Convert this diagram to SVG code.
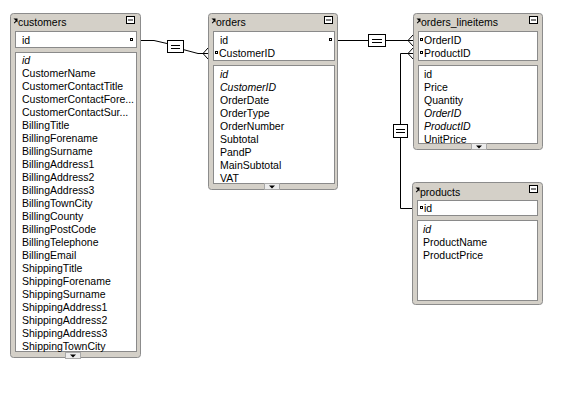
<svg xmlns="http://www.w3.org/2000/svg" width="572" height="413" viewBox="0 0 572 413">
<defs>
<style>
.frame{fill:#d4d0c8;stroke:#8c8c8c;stroke-width:1}
.box{fill:#ffffff;stroke:#8a8a8a;stroke-width:1}
.t{font-family:"Liberation Sans",Arial,sans-serif;font-size:10.5px;fill:#000}
.i{font-style:italic}
.ic{fill:#fff;stroke:#000;stroke-width:1}
.dot{fill:#fff;stroke:#000;stroke-width:1}
.ln{fill:none;stroke:#000;stroke-width:1}
.eq{fill:#fff;stroke:#000;stroke-width:1}
.tab{fill:#ececec;stroke:#a8a8a8;stroke-width:1}
</style>
<g id="closeicon"><rect class="ic" x="0.5" y="0.5" width="8" height="7"/><line x1="2" y1="4" x2="7" y2="4" stroke="#000"/></g>
<g id="titleicon"><path d="M0.5,1.5 H4.5 V5.5 L3.5,4.5 L1.5,6.5 L0.8,5.8 L2.8,3.8 Z" fill="#000"/></g>
<g id="scrolltab"><rect class="tab" x="-7.5" y="-2.5" width="15" height="6"/><path d="M-3,-0.5 H3 L0,2.5 Z" fill="#000"/></g>
</defs>
<rect width="572" height="413" fill="#fff"/>

<g id="connectors">
<path class="ln" d="M141,40.5 H154 L167,43.5"/>
<path class="ln" d="M183,49.5 L198,53.5 H208"/>
<path class="ln" d="M208,48 L203,53.5 L208,59"/>
<rect class="eq" x="167.5" y="40.5" width="16" height="12"/>
<path class="ln" d="M171,45.5 H180 M171,48.5 H180"/>

<path class="ln" d="M338,40.5 H413"/>
<path class="ln" d="M413,35 L408,40.5 L413,46"/>
<rect class="eq" x="368.5" y="34.5" width="17" height="12"/>
<path class="ln" d="M372,39.5 H382 M372,42.5 H382"/>

<path class="ln" d="M413,53.5 H400.5 V208.5 H412"/>
<path class="ln" d="M413,48 L408,53.5 L413,59"/>
<rect class="eq" x="393.5" y="124.5" width="14" height="13"/>
<path class="ln" d="M396,129.5 H405 M396,132.5 H405"/>
</g>

<g id="customers">
<rect class="frame" x="10.5" y="13.5" width="130" height="344" rx="3"/>
<use href="#titleicon" x="13" y="17"/>
<text class="t" x="18" y="26">customers</text>
<use href="#closeicon" x="126" y="16"/>
<rect class="box" x="15.5" y="31.5" width="121" height="16"/>
<text class="t" x="22" y="44">id</text>
<rect class="dot" x="130.5" y="38.5" width="2" height="2"/>
<rect class="box" x="15.5" y="52.5" width="121" height="299"/>
<text class="t i" x="22" y="64">id</text>
<text class="t" x="22" y="77">CustomerName</text>
<text class="t" x="22" y="90">CustomerContactTitle</text>
<text class="t" x="22" y="103">CustomerContactFore...</text>
<text class="t" x="22" y="116">CustomerContactSur...</text>
<text class="t" x="22" y="129">BillingTitle</text>
<text class="t" x="22" y="142">BillingForename</text>
<text class="t" x="22" y="155">BillingSurname</text>
<text class="t" x="22" y="168">BillingAddress1</text>
<text class="t" x="22" y="181">BillingAddress2</text>
<text class="t" x="22" y="194">BillingAddress3</text>
<text class="t" x="22" y="207">BillingTownCity</text>
<text class="t" x="22" y="220">BillingCounty</text>
<text class="t" x="22" y="233">BillingPostCode</text>
<text class="t" x="22" y="246">BillingTelephone</text>
<text class="t" x="22" y="259">BillingEmail</text>
<text class="t" x="22" y="272">ShippingTitle</text>
<text class="t" x="22" y="285">ShippingForename</text>
<text class="t" x="22" y="298">ShippingSurname</text>
<text class="t" x="22" y="311">ShippingAddress1</text>
<text class="t" x="22" y="324">ShippingAddress2</text>
<text class="t" x="22" y="337">ShippingAddress3</text>
<text class="t" x="22" y="350">ShippingTownCity</text>
<use href="#scrolltab" x="73" y="355"/>
</g>

<g id="orders">
<rect class="frame" x="208.5" y="13.5" width="129" height="176" rx="3"/>
<use href="#titleicon" x="211" y="17"/>
<text class="t" x="216" y="26">orders</text>
<use href="#closeicon" x="324" y="16"/>
<rect class="box" x="213.5" y="31.5" width="121" height="29"/>
<text class="t" x="220" y="44">id</text>
<rect class="dot" x="329.5" y="38.5" width="2" height="2"/>
<rect class="dot" x="215.5" y="51.5" width="2" height="2"/>
<text class="t" x="219" y="57">CustomerID</text>
<rect class="box" x="213.5" y="65.5" width="121" height="118"/>
<text class="t i" x="220" y="78">id</text>
<text class="t i" x="220" y="91">CustomerID</text>
<text class="t" x="220" y="104">OrderDate</text>
<text class="t" x="220" y="117">OrderType</text>
<text class="t" x="220" y="130">OrderNumber</text>
<text class="t" x="220" y="143">Subtotal</text>
<text class="t" x="220" y="156">PandP</text>
<text class="t" x="220" y="169">MainSubtotal</text>
<text class="t" x="220" y="182">VAT</text>
<use href="#scrolltab" x="272" y="186"/>
</g>

<g id="orders_lineitems">
<rect class="frame" x="413.5" y="13.5" width="129" height="136" rx="3"/>
<use href="#titleicon" x="416" y="17"/>
<text class="t" x="421" y="26">orders_lineitems</text>
<use href="#closeicon" x="529" y="16"/>
<rect class="box" x="418.5" y="31.5" width="119" height="29"/>
<rect class="dot" x="420.5" y="38.5" width="2" height="2"/>
<text class="t" x="424" y="44">OrderID</text>
<rect class="dot" x="420.5" y="51.5" width="2" height="2"/>
<text class="t" x="424" y="57">ProductID</text>
<rect class="box" x="418.5" y="65.5" width="119" height="78"/>
<text class="t" x="424" y="78">id</text>
<text class="t" x="424" y="91">Price</text>
<text class="t" x="424" y="104">Quantity</text>
<text class="t i" x="424" y="117">OrderID</text>
<text class="t i" x="424" y="130">ProductID</text>
<text class="t" x="424" y="143">UnitPrice</text>
<use href="#scrolltab" x="479" y="146"/>
</g>

<g id="products">
<rect class="frame" x="412.5" y="182.5" width="130" height="122" rx="3"/>
<use href="#titleicon" x="415" y="186"/>
<text class="t" x="420" y="196">products</text>
<use href="#closeicon" x="529" y="185"/>
<rect class="box" x="417.5" y="200.5" width="120" height="15"/>
<rect class="dot" x="420.5" y="206.5" width="2" height="2"/>
<text class="t" x="424" y="212">id</text>
<rect class="box" x="417.5" y="220.5" width="120" height="80"/>
<text class="t i" x="423" y="233">id</text>
<text class="t" x="423" y="246">ProductName</text>
<text class="t" x="423" y="259">ProductPrice</text>
</g>
</svg>
